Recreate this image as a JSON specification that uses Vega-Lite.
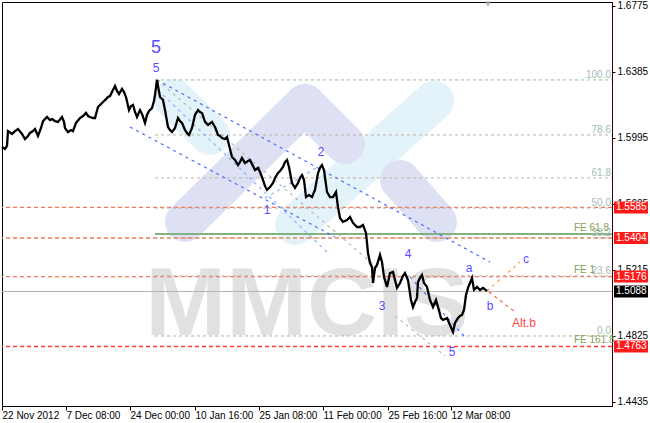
{
  "$schema": "https://vega.github.io/schema/vega-lite/v6.json",
  "width": 610,
  "height": 404,
  "autosize": {"type": "none"},
  "padding": {"left": 2, "top": 2, "right": 38, "bottom": 17},
  "background": "white",
  "config": {"view": {"stroke": "black", "strokeWidth": 1}, "font": "Liberation Sans"},
  "datasets": {
    "price": [
      {"i":0,"p":1.5942},{"i":3,"p":1.5930},{"i":5,"p":1.5948},{"i":6,"p":1.6036},{"i":10,"p":1.6019},{"i":13,"p":1.6036},{"i":16,"p":1.6048},{"i":20,"p":1.6019},{"i":23,"p":1.5989},{"i":26,"p":1.6007},{"i":28,"p":1.6025},{"i":31,"p":1.6036},{"i":33,"p":1.6048},{"i":36,"p":1.6007},{"i":39,"p":1.6054},{"i":41,"p":1.6095},{"i":45,"p":1.6119},{"i":48,"p":1.6101},{"i":50,"p":1.6107},{"i":53,"p":1.6095},{"i":56,"p":1.6090},{"i":60,"p":1.6119},{"i":62,"p":1.6090},{"i":63,"p":1.6054},{"i":66,"p":1.6030},{"i":69,"p":1.6042},{"i":71,"p":1.6036},{"i":74,"p":1.6084},{"i":78,"p":1.6113},{"i":81,"p":1.6125},{"i":84,"p":1.6143},{"i":86,"p":1.6125},{"i":88,"p":1.6119},{"i":91,"p":1.6113},{"i":93,"p":1.6113},{"i":96,"p":1.6178},{"i":99,"p":1.6196},{"i":101,"p":1.6208},{"i":104,"p":1.6225},{"i":106,"p":1.6237},{"i":108,"p":1.6243},{"i":110,"p":1.6267},{"i":113,"p":1.6302},{"i":115,"p":1.6273},{"i":117,"p":1.6255},{"i":120,"p":1.6285},{"i":122,"p":1.6267},{"i":124,"p":1.6237},{"i":127,"p":1.6160},{"i":129,"p":1.6184},{"i":131,"p":1.6190},{"i":133,"p":1.6149},{"i":135,"p":1.6119},{"i":138,"p":1.6160},{"i":140,"p":1.6137},{"i":143,"p":1.6084},{"i":145,"p":1.6131},{"i":147,"p":1.6155},{"i":150,"p":1.6172},{"i":152,"p":1.6214},{"i":153,"p":1.6249},{"i":155,"p":1.6338},{"i":156,"p":1.6302},{"i":158,"p":1.6237},{"i":161,"p":1.6220},{"i":163,"p":1.6160},{"i":166,"p":1.6060},{"i":168,"p":1.6042},{"i":170,"p":1.6030},{"i":173,"p":1.6054},{"i":176,"p":1.6113},{"i":178,"p":1.6095},{"i":180,"p":1.6084},{"i":183,"p":1.6042},{"i":185,"p":1.6025},{"i":187,"p":1.6013},{"i":190,"p":1.6054},{"i":193,"p":1.6131},{"i":196,"p":1.6160},{"i":198,"p":1.6149},{"i":200,"p":1.6143},{"i":203,"p":1.6090},{"i":206,"p":1.6072},{"i":210,"p":1.6090},{"i":213,"p":1.6060},{"i":216,"p":1.6013},{"i":218,"p":1.6007},{"i":220,"p":1.5995},{"i":223,"p":1.5989},{"i":225,"p":1.6001},{"i":227,"p":1.5954},{"i":230,"p":1.5883},{"i":233,"p":1.5865},{"i":236,"p":1.5835},{"i":238,"p":1.5853},{"i":240,"p":1.5877},{"i":243,"p":1.5847},{"i":246,"p":1.5859},{"i":248,"p":1.5865},{"i":251,"p":1.5830},{"i":253,"p":1.5806},{"i":256,"p":1.5818},{"i":258,"p":1.5794},{"i":261,"p":1.5747},{"i":263,"p":1.5711},{"i":265,"p":1.5688},{"i":268,"p":1.5705},{"i":271,"p":1.5729},{"i":273,"p":1.5759},{"i":276,"p":1.5788},{"i":278,"p":1.5800},{"i":281,"p":1.5824},{"i":283,"p":1.5853},{"i":285,"p":1.5865},{"i":287,"p":1.5824},{"i":290,"p":1.5729},{"i":293,"p":1.5700},{"i":296,"p":1.5729},{"i":298,"p":1.5759},{"i":300,"p":1.5776},{"i":302,"p":1.5747},{"i":304,"p":1.5646},{"i":307,"p":1.5658},{"i":310,"p":1.5646},{"i":313,"p":1.5688},{"i":316,"p":1.5788},{"i":318,"p":1.5818},{"i":320,"p":1.5835},{"i":322,"p":1.5806},{"i":325,"p":1.5676},{"i":328,"p":1.5646},{"i":331,"p":1.5646},{"i":334,"p":1.5676},{"i":336,"p":1.5587},{"i":338,"p":1.5522},{"i":341,"p":1.5499},{"i":345,"p":1.5510},{"i":348,"p":1.5528},{"i":351,"p":1.5493},{"i":355,"p":1.5469},{"i":358,"p":1.5469},{"i":361,"p":1.5481},{"i":364,"p":1.5434},{"i":365,"p":1.5375},{"i":366,"p":1.5315},{"i":368,"p":1.5256},{"i":370,"p":1.5233},{"i":371,"p":1.5138},{"i":373,"p":1.5227},{"i":375,"p":1.5245},{"i":378,"p":1.5304},{"i":380,"p":1.5262},{"i":382,"p":1.5174},{"i":385,"p":1.5115},{"i":388,"p":1.5197},{"i":391,"p":1.5203},{"i":393,"p":1.5156},{"i":395,"p":1.5109},{"i":398,"p":1.5138},{"i":401,"p":1.5180},{"i":403,"p":1.5197},{"i":406,"p":1.5156},{"i":409,"p":1.5038},{"i":411,"p":1.4996},{"i":413,"p":1.5026},{"i":415,"p":1.5050},{"i":416,"p":1.5144},{"i":418,"p":1.5168},{"i":420,"p":1.5185},{"i":422,"p":1.5138},{"i":425,"p":1.5115},{"i":428,"p":1.5038},{"i":431,"p":1.4996},{"i":434,"p":1.5038},{"i":436,"p":1.4996},{"i":439,"p":1.4931},{"i":441,"p":1.4920},{"i":443,"p":1.4925},{"i":445,"p":1.4931},{"i":448,"p":1.4890},{"i":451,"p":1.4849},{"i":453,"p":1.4902},{"i":456,"p":1.4931},{"i":458,"p":1.4943},{"i":460,"p":1.4949},{"i":462,"p":1.4979},{"i":464,"p":1.5067},{"i":466,"p":1.5109},{"i":468,"p":1.5138},{"i":470,"p":1.5168},{"i":472,"p":1.5097},{"i":475,"p":1.5115},{"i":478,"p":1.5097},{"i":481,"p":1.5109},{"i":485,"p":1.5091}
    ],
    "levels": [
      {"p":1.5585,"kind":"upper"},{"p":1.5404,"kind":"upper"},{"p":1.5176,"kind":"upper"},{"p":1.4763,"kind":"lower"}
    ],
    "fib": [
      {"p":1.6338,"label":"100.0","kind":"end"},
      {"p":1.6013,"label":"78.6","kind":"mid"},
      {"p":1.5759,"label":"61.8","kind":"mid"},
      {"p":1.5581,"label":"50.0","kind":"mid"},
      {"p":1.5404,"label":"38.2","kind":"mid"},
      {"p":1.5180,"label":"23.6","kind":"mid"},
      {"p":1.4825,"label":"0.0","kind":"end"}
    ],
    "fe": [
      {"p":1.5428,"label":"FE 61.8"},{"p":1.5180,"label":"FE 1"},{"p":1.4763,"label":"FE 161.8"}
    ],
    "logo": [
      {"x1":172,"p1":1.6225,"x2":208,"p2":1.6013,"part":"blue"},
      {"x1":432,"p1":1.6214,"x2":293,"p2":1.5481,"part":"blue"},
      {"x1":303,"p1":1.6196,"x2":183,"p2":1.5499,"part":"lilac"},
      {"x1":303,"p1":1.6196,"x2":343,"p2":1.5960,"part":"lilac"},
      {"x1":398,"p1":1.5747,"x2":435,"p2":1.5499,"part":"lilac"}
    ],
    "diag": [
      {"x1":155,"p1":1.6338,"x2":488,"p2":1.5262,"kind":"channel"},
      {"x1":128,"p1":1.6060,"x2":333,"p2":1.5410,"kind":"channel"},
      {"x1":408,"p1":1.5174,"x2":463,"p2":1.4819,"kind":"channel"},
      {"x1":161,"p1":1.6249,"x2":328,"p2":1.5304,"kind":"inner"},
      {"x1":263,"p1":1.5640,"x2":323,"p2":1.5847,"kind":"inner"},
      {"x1":155,"p1":1.6338,"x2":378,"p2":1.5215,"kind":"gray"},
      {"x1":393,"p1":1.4943,"x2":443,"p2":1.4707,"kind":"gray"},
      {"x1":485,"p1":1.5091,"x2":518,"p2":1.5262,"kind":"c"},
      {"x1":487,"p1":1.5085,"x2":513,"p2":1.4967,"kind":"altb"}
    ],
    "waves": [
      {"i":154,"p":1.6409,"label":"5"},
      {"i":319,"p":1.5912,"label":"2"},
      {"i":265,"p":1.5570,"label":"1"},
      {"i":380,"p":1.5002,"label":"3"},
      {"i":406,"p":1.5310,"label":"4"},
      {"i":450,"p":1.4730,"label":"5"},
      {"i":467,"p":1.5227,"label":"a"},
      {"i":488,"p":1.5000,"label":"b"},
      {"i":524,"p":1.5280,"label":"c"}
    ],
    "marks": [
      {"p":1.5585,"label":"1.5585","kind":"alert"},
      {"p":1.5404,"label":"1.5404","kind":"alert"},
      {"p":1.5176,"label":"1.5176","kind":"alert"},
      {"p":1.5088,"label":"1.5088","kind":"bid"},
      {"p":1.4763,"label":"1.4763","kind":"alert"}
    ]
  },
  "resolve": {"scale": {"color": "independent"}},
  "layer": [
    {
      "data": {"name": "logo"},
      "mark": {"type": "rule", "strokeCap": "round", "strokeWidth": 40},
      "encoding": {
        "x": {"field": "x1", "type": "quantitative"},
        "x2": {"field": "x2"},
        "y": {"field": "p1", "type": "quantitative"},
        "y2": {"field": "p2"},
        "color": {"field": "part", "type": "nominal", "scale": {"domain": ["blue","lilac"], "range": ["#e4f2fa","#dde1f3"]}, "legend": null}
      }
    },
    {
      "data": {"values": [{"t":"MMCIS"}]},
      "mark": {"type": "text", "fontSize": 97, "fontWeight": "bold", "font": "Liberation Sans", "color": "#e1e1e1", "align": "center", "baseline": "alphabetic"},
      "encoding": {"x": {"datum": 305, "type": "quantitative"}, "y": {"datum": 1.4831, "type": "quantitative"}, "text": {"field": "t"}}
    },
    {
      "data": {"name": "levels"},
      "mark": {"type": "rule", "strokeDash": [4, 3], "strokeWidth": 1.3},
      "encoding": {
        "y": {"field": "p", "type": "quantitative"},
        "color": {"field": "kind", "type": "nominal", "scale": {"domain": ["upper","lower"], "range": ["#f47a5a","#ff3b3b"]}, "legend": null}
      }
    },
    {
      "data": {"values": [{"p":1.5088}]},
      "mark": {"type": "rule", "color": "#b4b4a8", "strokeWidth": 1},
      "encoding": {"y": {"field": "p", "type": "quantitative"}}
    },
    {
      "data": {"name": "fib"},
      "mark": {"type": "rule", "strokeDash": [3, 3], "strokeWidth": 1},
      "encoding": {
        "x": {"datum": 153, "type": "quantitative"},
        "x2": {"datum": 610},
        "y": {"field": "p", "type": "quantitative"},
        "color": {"field": "kind", "type": "nominal", "scale": {"domain": ["end","mid"], "range": ["#8fc08f","#c2b0a6"]}, "legend": null}
      }
    },
    {
      "data": {"values": [{"p":1.5428}]},
      "mark": {"type": "rule", "color": "#82b282", "strokeWidth": 2},
      "encoding": {"x": {"datum": 153, "type": "quantitative"}, "x2": {"datum": 610}, "y": {"field": "p", "type": "quantitative"}}
    },
    {
      "data": {"name": "diag"},
      "mark": {"type": "rule", "strokeDash": [3, 4], "strokeWidth": 1.2},
      "encoding": {
        "x": {"field": "x1", "type": "quantitative"},
        "x2": {"field": "x2"},
        "y": {"field": "p1", "type": "quantitative"},
        "y2": {"field": "p2"},
        "color": {"field": "kind", "type": "nominal", "scale": {"domain": ["channel","inner","gray","c","altb"], "range": ["#4a6cff","#86b4ff","#b8b8b8","#ff9a55","#ff5a40"]}, "legend": null}
      }
    },
    {
      "data": {"name": "price"},
      "mark": {"type": "line", "color": "black", "strokeWidth": 2.3, "interpolate": "linear"},
      "encoding": {
        "x": {"field": "i", "type": "quantitative", "scale": {"domain": [0, 610], "nice": false, "zero": false},
          "axis": {"orient": "bottom", "values": [0,64,128,193,257,321,386,449], "labelExpr": "['22 Nov 2012','7 Dec 08:00','24 Dec 00:00','10 Jan 16:00','25 Jan 08:00','11 Feb 00:00','25 Feb 16:00','12 Mar 08:00'][indexof([0,64,128,193,257,321,386,449], datum.value)]", "grid": false, "domain": false, "tickColor": "black", "tickSize": 4, "labelAlign": "left", "labelBaseline": "top", "labelPadding": 0, "labelFontSize": 10, "labelColor": "black", "labelFont": "Liberation Sans", "labelOverlap": false, "labelBound": false, "labelFlush": false, "title": null}},
        "y": {"field": "p", "type": "quantitative", "scale": {"domain": [1.44113, 1.67986], "nice": false, "zero": false},
          "axis": {"orient": "right", "values": [1.4435,1.4630,1.4825,1.5020,1.5215,1.5410,1.5605,1.5800,1.5995,1.6190,1.6385,1.6580,1.6775], "format": ".4f", "grid": false, "domain": true, "domainColor": "#3a0000", "tickColor": "black", "tickSize": 3, "labelPadding": 2, "labelFontSize": 10, "labelColor": "black", "labelFont": "Liberation Sans", "labelOverlap": false, "labelBound": false, "labelFlush": false, "title": null}}
      }
    },
    {
      "data": {"name": "fib"},
      "mark": {"type": "text", "align": "right", "baseline": "alphabetic", "dy": -2, "fontSize": 10, "color": "#a4bcb2"},
      "encoding": {"x": {"datum": 609, "type": "quantitative"}, "y": {"field": "p", "type": "quantitative"}, "text": {"field": "label"}}
    },
    {
      "data": {"name": "fe"},
      "mark": {"type": "text", "align": "left", "baseline": "alphabetic", "dy": -3, "fontSize": 10, "color": "#86a05a"},
      "encoding": {"x": {"datum": 572, "type": "quantitative"}, "y": {"field": "p", "type": "quantitative"}, "text": {"field": "label"}}
    },
    {
      "data": {"name": "waves"},
      "mark": {"type": "text", "align": "center", "baseline": "middle", "fontSize": 12, "color": "#5a4cff"},
      "encoding": {"x": {"field": "i", "type": "quantitative"}, "y": {"field": "p", "type": "quantitative"}, "text": {"field": "label"}}
    },
    {
      "data": {"values": [{"i":154,"p":1.6527,"label":"5"}]},
      "mark": {"type": "text", "align": "center", "baseline": "middle", "fontSize": 18, "color": "#5a4cff"},
      "encoding": {"x": {"field": "i", "type": "quantitative"}, "y": {"field": "p", "type": "quantitative"}, "text": {"field": "label"}}
    },
    {
      "data": {"values": [{"i":522,"p":1.4902,"label":"Alt.b"}]},
      "mark": {"type": "text", "align": "center", "baseline": "middle", "fontSize": 12, "color": "#ff4a4a"},
      "encoding": {"x": {"field": "i", "type": "quantitative"}, "y": {"field": "p", "type": "quantitative"}, "text": {"field": "label"}}
    },
    {
      "data": {"values": [{"i":486,"p":1.6785}]},
      "mark": {"type": "point", "shape": "triangle-down", "size": 40, "filled": true, "color": "#a0a0a0"},
      "encoding": {"x": {"field": "i", "type": "quantitative"}, "y": {"field": "p", "type": "quantitative"}}
    },
    {
      "data": {"name": "marks"},
      "mark": {"type": "rect", "height": 12},
      "encoding": {
        "x": {"datum": 612, "type": "quantitative"},
        "x2": {"datum": 646},
        "y": {"field": "p", "type": "quantitative"},
        "color": {"field": "kind", "type": "nominal", "scale": {"domain": ["alert","bid"], "range": ["#ff1a1a","#000000"]}, "legend": null}
      }
    },
    {
      "data": {"name": "marks"},
      "mark": {"type": "text", "align": "left", "baseline": "middle", "fontSize": 10, "color": "white", "font": "Liberation Sans"},
      "encoding": {"x": {"datum": 614, "type": "quantitative"}, "y": {"field": "p", "type": "quantitative"}, "text": {"field": "label"}}
    }
  ]
}
